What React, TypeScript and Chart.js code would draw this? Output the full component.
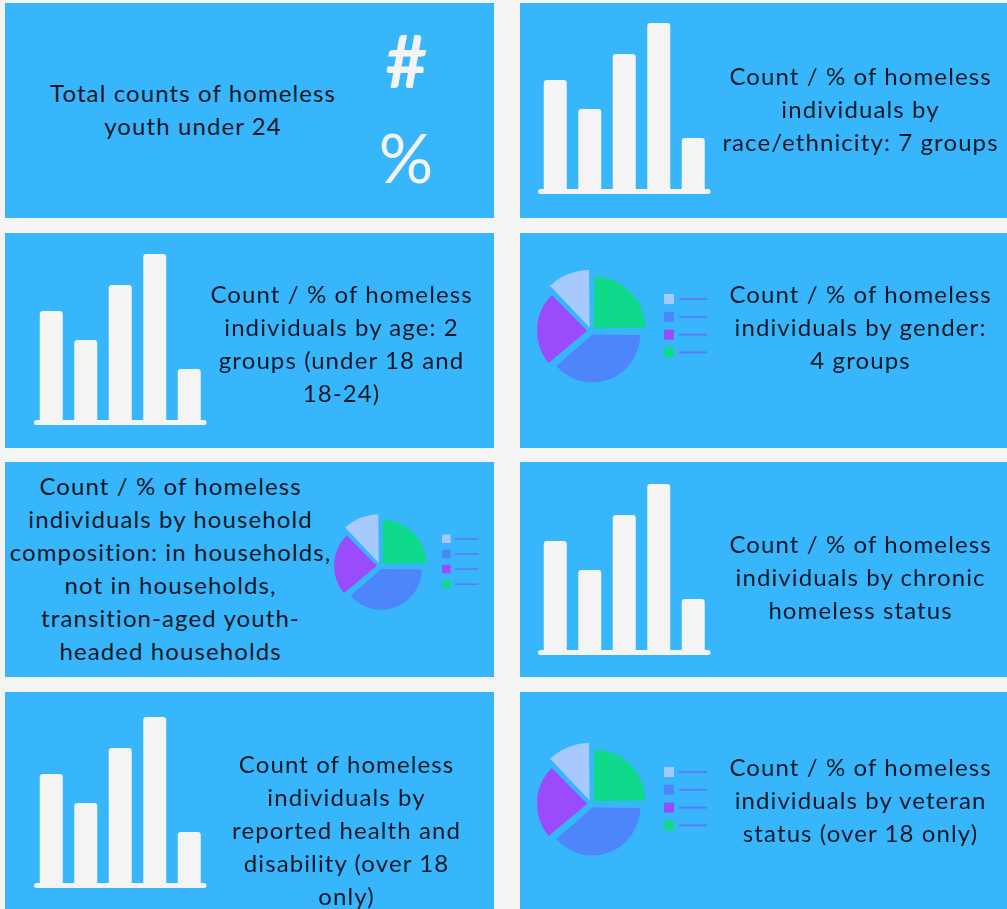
import React, { useEffect, useRef } from "react";
import { Chart, registerables } from "chart.js";

Chart.register(...registerables);

// ---------------- data ----------------
const BAR_CATEGORIES = ["A", "B", "C", "D", "E"];
const BAR_VALUES = [109, 80, 135, 166, 51];
const BAR_MAX = 166;

const PIE_LABELS = ["Group 1", "Group 2", "Group 3", "Group 4"];
const PIE_SHARES = [25, 38.75, 24, 12.25]; // percent of the circle
const PIE_RADII = [50, 46, 48.5, 56]; // relative slice radius
const LEGEND_ORDER = [3, 1, 2, 0];

const TITLE_TOTAL = ["Total counts of homeless", "youth under 24"];
const TITLE_RACE = ["Count / % of homeless", "individuals by", "race/ethnicity: 7 groups"];
const TITLE_AGE = ["Count / % of homeless", "individuals by age: 2", "groups (under 18 and", "18-24)"];
const TITLE_GENDER = ["Count / % of homeless", "individuals by gender:", "4 groups"];
const TITLE_HOUSEHOLD = [
  "Count / % of homeless",
  "individuals by household",
  "composition: in households,",
  "not in households,",
  "transition-aged youth-",
  "headed households",
];
const TITLE_CHRONIC = ["Count / % of homeless", "individuals by chronic", "homeless status"];
const TITLE_HEALTH = ["Count of homeless", "individuals by", "reported health and", "disability (over 18", "only)"];
const TITLE_VETERAN = ["Count / % of homeless", "individuals by veteran", "status (over 18 only)"];
const SYMBOL_HASH = "#";
const SYMBOL_PERCENT = "%";

// ---------------- styles ----------------
const PAGE_BG = "#f4f4f4";
const TILE_BLUE = "#38b6fc";
const TEXT_COLOR = "#0a1826";
const ICON_WHITE = "#f4f4f4";
const PIE_COLORS = ["#0fd98b", "#4d86fa", "#9a4cfd", "#a7c9fd"];
const LEGEND_LINE = "#5a7ef6";
const FONT = "Lato, 'Open Sans', sans-serif";
const FONT_SIZE = 24;
const LINE_H = 33;
const LETTER_SPACING = 1.1;
const PIE_SIZE_FACTOR = 0.96;

const TILES = [
  { x: 5, y: 3, w: 489, h: 215 },
  { x: 520, y: 3, w: 500, h: 215 },
  { x: 5, y: 233, w: 489, h: 215 },
  { x: 520, y: 233, w: 500, h: 215 },
  { x: 5, y: 462, w: 489, h: 215 },
  { x: 520, y: 462, w: 500, h: 215 },
  { x: 5, y: 692, w: 489, h: 230 },
  { x: 520, y: 692, w: 500, h: 230 },
];

const baselinePlugin = {
  id: "iconBaseline",
  afterDatasetsDraw(chart: any) {
    const { ctx, chartArea } = chart;
    ctx.save();
    ctx.fillStyle = ICON_WHITE;
    ctx.beginPath();
    const w = chartArea.right - chartArea.left;
    if ((ctx as any).roundRect) {
      (ctx as any).roundRect(chartArea.left, chartArea.bottom, w, 5, 2.5);
    } else {
      ctx.rect(chartArea.left, chartArea.bottom, w, 5);
    }
    ctx.fill();
    ctx.restore();
  },
};

function BarIcon({ left, bottom }: { left: number; bottom: number }) {
  const ref = useRef<HTMLCanvasElement>(null);
  const W = 172.5;
  const H = BAR_MAX;
  const pad = 4;
  const padB = 9;
  const cw = 182;
  const ch = H + pad + padB;
  const cl = Math.round(left) - pad;
  const ct = Math.round(bottom - H) - pad;
  useEffect(() => {
    if (!ref.current) return;
    const chart = new Chart(ref.current, {
      type: "bar",
      data: {
        labels: BAR_CATEGORIES,
        datasets: [
          {
            data: BAR_VALUES,
            backgroundColor: ICON_WHITE,
            borderWidth: 0,
            borderRadius: 3,
            borderSkipped: "bottom",
            inflateAmount: 0,
            categoryPercentage: 1,
            barPercentage: 23 / 34.5,
          } as any,
        ],
      },
      options: {
        responsive: false,
        maintainAspectRatio: false,
        animation: false,
        events: [],
        layout: { padding: { left: pad, right: cw - pad - W, top: pad, bottom: padB } },
        plugins: { legend: { display: false }, tooltip: { enabled: false } },
        scales: {
          x: { display: false },
          y: { display: false, min: 0, max: BAR_MAX },
        },
      },
      plugins: [baselinePlugin],
    });
    return () => chart.destroy();
  }, []);
  return (
    <canvas
      ref={ref}
      width={cw}
      height={ch}
      style={{ position: "absolute", left: cl, top: ct, width: cw, height: ch }}
    />
  );
}

function PieIcon({ cx, cy, s }: { cx: number; cy: number; s: number }) {
  const ref = useRef<HTMLCanvasElement>(null);
  const C = Math.round(64 * s);
  const legendW = Math.round(124 * s);
  const cw = 2 * C + legendW;
  const ch = 2 * C;
  useEffect(() => {
    if (!ref.current) return;
    const legendPlugin = {
      id: "pieLegend",
      afterDraw(chart: any) {
        const { ctx } = chart;
        const box = 10 * s;
        const step = 17.8 * s;
        const x0 = C + 73 * s;
        const y0 = C - 37 * s;
        ctx.save();
        LEGEND_ORDER.forEach((idx, k) => {
          const y = y0 + k * step;
          ctx.fillStyle = PIE_COLORS[idx];
          ctx.fillRect(x0, y, box, box);
          ctx.strokeStyle = LEGEND_LINE;
          ctx.lineWidth = 2 * s;
          ctx.beginPath();
          ctx.moveTo(C + 88 * s, y + box / 2);
          ctx.lineTo(C + 116 * s, y + box / 2);
          ctx.stroke();
        });
        ctx.restore();
      },
    };
    const chart = new Chart(ref.current, {
      type: "polarArea",
      data: {
        labels: PIE_LABELS,
        datasets: [
          {
            data: PIE_RADII,
            angle: PIE_SHARES.map((p) => p * 3.6),
            backgroundColor: PIE_COLORS,
            borderWidth: 0,
            offset: 15 * s,
            clip: false,
          } as any,
        ],
      },
      options: {
        responsive: false,
        maintainAspectRatio: false,
        animation: false,
        events: [],
        layout: { padding: { left: 0, top: 0, bottom: 0, right: legendW } },
        plugins: { legend: { display: false }, tooltip: { enabled: false } },
        scales: {
          r: { display: false, min: 0, max: C / (s * PIE_SIZE_FACTOR), startAngle: 0 },
        },
      },
      plugins: [legendPlugin],
    });
    return () => chart.destroy();
  }, []);
  return (
    <canvas
      ref={ref}
      width={cw}
      height={ch}
      style={{ position: "absolute", left: Math.round(cx) - C, top: Math.round(cy) - C, width: cw, height: ch }}
    />
  );
}

function Title({ lines, cx, baseline }: { lines: string[]; cx: number; baseline: number }) {
  const top = baseline - (LINE_H / 2 + 0.387 * FONT_SIZE);
  return (
    <div
      style={{
        position: "absolute",
        left: cx - 250 + LETTER_SPACING / 2,
        width: 500,
        top,
        textAlign: "center",
        fontFamily: FONT,
        fontSize: FONT_SIZE,
        letterSpacing: LETTER_SPACING,
        lineHeight: LINE_H + "px",
        color: TEXT_COLOR,
        whiteSpace: "nowrap",
      }}
    >
      {lines.map((l, i) => (
        <div key={i}>{l}</div>
      ))}
    </div>
  );
}

function Symbol({ text, cx, baseline, size, weight }: { text: string; cx: number; baseline: number; size: number; weight: number }) {
  const top = baseline - (size / 2 + 0.387 * size);
  return (
    <div
      style={{
        position: "absolute",
        left: cx - 60,
        width: 120,
        top,
        textAlign: "center",
        fontFamily: FONT,
        fontSize: size,
        fontWeight: weight,
        lineHeight: size + "px",
        color: ICON_WHITE,
        whiteSpace: "nowrap",
      }}
    >
      {text}
    </div>
  );
}

export default function App() {
  return (
    <div
      style={{
        position: "absolute",
        left: 0,
        top: 0,
        width: 1007,
        height: 909,
        overflow: "hidden",
        background: PAGE_BG,
      }}
    >
      {TILES.map((t, i) => (
        <div
          key={i}
          style={{ position: "absolute", left: t.x, top: t.y, width: t.w, height: t.h, background: TILE_BLUE }}
        />
      ))}

      <Title lines={TITLE_TOTAL} cx={192.5} baseline={102} />
      <Symbol text={SYMBOL_HASH} cx={406.5} baseline={88} size={72} weight={700} />
      <Symbol text={SYMBOL_PERCENT} cx={406} baseline={183} size={68} weight={400} />

      <BarIcon left={538} bottom={189} />
      <Title lines={TITLE_RACE} cx={860} baseline={85} />

      <BarIcon left={34} bottom={420} />
      <Title lines={TITLE_AGE} cx={341} baseline={303} />

      <PieIcon cx={591} cy={331} s={1} />
      <Title lines={TITLE_GENDER} cx={860} baseline={303} />

      <Title lines={TITLE_HOUSEHOLD} cx={170} baseline={495} />
      <PieIcon cx={380} cy={566} s={0.85} />

      <BarIcon left={538} bottom={650} />
      <Title lines={TITLE_CHRONIC} cx={860} baseline={553} />

      <BarIcon left={34} bottom={883} />
      <Title lines={TITLE_HEALTH} cx={346} baseline={773} />

      <PieIcon cx={591} cy={804} s={1} />
      <Title lines={TITLE_VETERAN} cx={860} baseline={776} />
    </div>
  );
}
